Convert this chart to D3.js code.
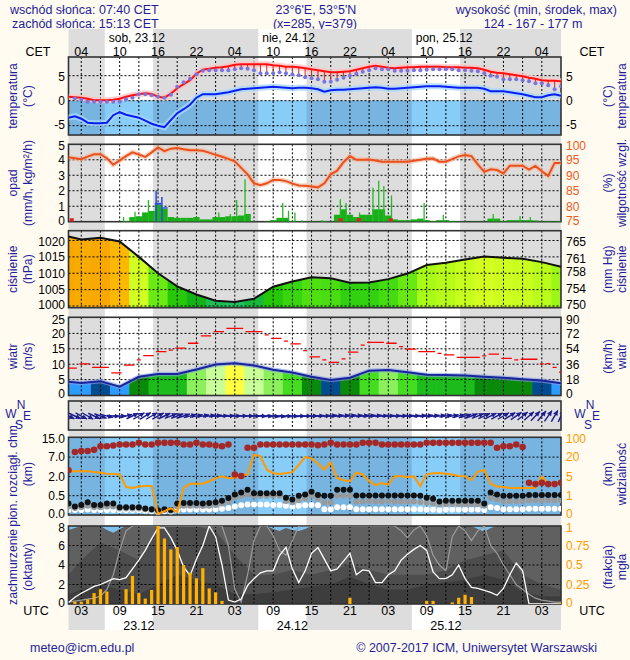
<!DOCTYPE html>
<html><head><meta charset="utf-8">
<script src="https://cdn.jsdelivr.net/npm/d3@7/dist/d3.min.js"></script>
<style>
html,body{margin:0;padding:0;background:#fffbf0;}
svg{display:block;}
text{font-family:"Liberation Sans",Arial,Helvetica,sans-serif;}
</style></head><body>
<svg id="chart" width="630" height="660"></svg>
<script>
// ======================= DATA =======================
// time = hours since 00 UTC 23.12
const hours1 = d3.range(1, 79);
const hours3 = [1,3,6,9,12,15,18,21,24,27,30,33,36,39,42,45,48,51,54,57,60,63,66,69,72,75,78];
const sunrise = [6.67, 30.67, 54.67];
const sunset = [14.22, 38.22, 62.22];
const dayLabels = ["sob, 23.12", "nie, 24.12", "pon, 25.12"];
const dateLabels = ["23.12", "24.12", "25.12"];
const dateNoon = [12, 36, 60];
const labelHours = [3,9,15,21,27,33,39,45,51,57,63,69,75];
const cetLabels = ["04","10","16","22","04","10","16","22","04","10","16","22","04"];
const utcLabels = ["03","09","15","21","03","09","15","21","03","09","15","21","03"];

// temperature (°C), hourly
const temperature = [0.8,0.7,0.6,0.4,0.1,0.1,0.1,0.2,0.4,0.8,1.1,1.3,1.5,1.35,0.8,0.6,1.4,2.5,3.3,4.1,5.4,6.2,6.4,6.6,6.7,6.9,7.2,7.3,7.3,7.3,7.3,7.3,7.1,7.0,6.8,6.8,6.7,6.5,6.3,6.1,5.9,5.7,5.7,5.8,5.9,6.2,6.5,6.8,7.0,6.8,6.6,6.5,6.6,6.7,6.7,6.8,6.8,6.8,6.8,6.7,6.7,6.7,6.6,6.6,6.5,6.2,5.8,5.6,5.5,5.3,5.1,4.9,4.6,4.4,4.1,4.0,4.0,3.9];
// perceived temperature (°C), hourly from t=2
const perceivedHours = d3.range(2, 79);
const perceived = [0.5,0.2,-0.2,-0.2,-0.2,-0.2,-0.2,-0.2,0.3,0.6,1.3,1.3,1.1,0.8,0.6,1.2,2.8,3.7,4.4,5.3,6.0,6.1,6.1,6.1,6.1,6.3,6.5,6.4,6.1,5.5,5.5,5.5,5.7,5.5,5.3,5.1,4.7,4.5,4.3,3.8,3.8,4.2,4.6,5.0,5.4,5.8,6.1,6.5,6.3,6.3,6.0,6.0,6.0,6.1,6.1,6.2,6.3,6.3,6.3,6.3,6.1,6.1,6.0,5.9,5.5,5.0,4.8,4.3,4.3,4.3,4.1,3.9,3.5,3.5,3.1,2.3,2.9,3.1];
// dew point (°C), hourly
const dewPoint = [-3.4,-3.1,-3.6,-4.4,-4.5,-4.5,-4.4,-2.9,-2.3,-2.8,-3.1,-3.4,-4.0,-4.6,-5.0,-5.3,-3.9,-2.5,-1.7,-0.8,0.6,1.3,1.3,1.3,1.5,1.7,2.0,2.3,2.4,2.5,2.6,2.7,2.8,2.7,2.6,2.5,2.6,2.6,2.5,2.3,1.8,2.1,2.2,2.2,2.3,2.4,2.5,2.6,2.7,2.6,2.4,2.4,2.5,2.6,2.7,2.8,2.9,2.9,2.9,2.8,2.7,2.6,2.6,2.6,2.6,2.4,1.9,1.9,1.9,1.7,1.5,1.3,1.0,0.7,0.7,1.1,1.3,1.0];

// precipitation (mm/h), hourly
const precip = [0,0,0,0,0,0,0,0,0,0.05,0.3,0.35,0.6,0.7,1.1,0.85,0.3,0.25,0.25,0.25,0.3,0.15,0.15,0.3,0.3,0.35,0.35,0.4,0.5,0.02,0,0.02,0.1,0.25,0.25,0.05,0.03,0.02,0.03,0.02,0.05,0.02,0.45,0.8,0.45,0.3,0.45,0.45,0.8,0.8,0.4,0.15,0.1,0.1,0.15,0.2,0.1,0.05,0.1,0.1,0.05,0.03,0.02,0.02,0.02,0.02,0.2,0.2,0.05,0.1,0.1,0.1,0.1,0.08,0.03,0.05,0.03,0.05];
const rainSpikeHours = [9.6,11.4,13.5,24.5,26.3,27.3,28.6,34.5,35.4,36.4,37.5,40.6,43.5,44.4,46.5,48.6,49.5,50.3,51.5,56.6,59.6,67.4,71.6,73.2];
const rainSpikeValues = [0.3,0.65,1.4,0.6,0.5,1.4,2.75,1.2,0.7,0.6,0.1,0.1,1.45,1.2,0.6,2.2,2.65,2.3,1.7,1.2,0.45,0.5,0.35,0.3];
const snowSpikeHours = [14.7, 15.6];
const snowSpikeValues = [2.0, 1.6];
const snowHours = [15, 16];
const snowValues = [0.12, 0.08];
const stormHours = [1.5, 43.5, 46.4, 51.4];
// relative humidity (%), hourly
const humidity = [95.8,95.5,95.2,96.0,96.8,96.8,95.5,93.4,94.8,96.2,97.4,96.7,95.9,97.4,99.0,97.8,98.6,98.8,98.4,98.1,98.1,97.9,97.3,96.6,96.0,95.3,94.5,92.4,90.3,87.4,86.8,87.4,88.5,88.5,88.1,87.3,86.7,86.6,86.4,86.1,87.4,90.3,91.5,94.2,96.2,95.0,95.0,95.1,94.8,94.4,94.4,94.4,94.4,94.4,94.7,95.0,95.3,95.4,94.4,94.4,95.2,96.1,96.5,96.2,93.5,91.1,91.9,91.7,90.6,93.1,93.1,93.1,91.8,93.0,91.3,89.8,94.0,94.0];

// pressure (hPa), 3-hourly
const pressure = [1021.2,1020.3,1020.8,1019.7,1015.0,1010.0,1006.0,1003.5,1001.6,1001.2,1002.2,1005.9,1007.5,1008.8,1008.5,1007.1,1007.2,1008.2,1009.9,1012.5,1013.2,1014.2,1015.1,1014.7,1014.4,1013.4,1012.0];

// wind speed (m/s), 3-hourly; gusts (m/s) hourly; direction (deg, from) hourly
const windSpeed = [4.3,3.9,4.5,2.7,5.9,6.8,6.8,8.3,9.9,10.3,9.6,8.2,7.3,5.9,4.9,5.6,7.9,8.1,7.4,6.6,6.5,6.3,5.9,5.6,5.1,4.7,3.8];
const gusts = [8.7,8.7,10.1,10.1,9.0,9.0,9.0,7.2,7.2,9.7,9.7,11.4,12.8,12.8,14.1,14.1,14.6,15.2,15.2,16.8,16.8,19.2,19.2,20.6,20.6,21.6,21.6,21.6,20.6,20.6,20.6,19.5,18.4,18.4,17.5,16.6,16.6,14.4,12.4,12.4,11.4,10.6,10.6,11.7,13.9,13.9,16.2,17.1,17.1,17.1,16.8,16.8,15.7,14.9,14.9,14.1,14.1,14.1,13.5,13.0,13.0,12.2,12.2,12.2,12.2,12.7,13.3,13.3,11.9,11.9,11.4,11.6,11.6,11.6,10.1,10.2,9.0,7.4];
const windDir = [295,295,298,300,295,290,285,275,270,255,245,240,238,240,242,245,248,250,252,255,258,260,262,264,265,266,267,268,270,272,274,275,276,276,275,274,272,270,268,266,265,264,263,262,262,262,263,264,264,265,265,266,266,266,265,264,264,263,262,260,258,256,254,250,248,246,244,242,240,238,236,232,228,224,220,215,210,205];

// cloud vertical extent (km), hourly; visibility (km), hourly
const cloudTop = [3.6,9.1,9.5,9.5,10,11.5,11.5,11.8,12.2,12.2,12.2,12.9,12.2,12.2,12.9,12.9,12.9,12.9,12.2,12.2,12.9,12.2,12.2,11.8,11.5,12.2,2.5,2.1,10.9,10.9,12.2,12.2,12.2,12.2,12.2,12.2,12.2,12.2,12.2,11.9,12.2,12.9,12.2,12.2,12.2,12.2,12.9,12.9,12.9,12.2,12.2,12.2,12.2,12.2,12.2,12.2,12.9,12.9,12.9,12.9,12.9,12.9,12.9,12.9,12.9,12.9,12.9,10.9,11.5,11.5,12.2,11.2,1.5,1.4,1.5,1.4,1.4,1.5];
const cloudBaseBlack = [0.3,0.22,0.26,0.33,0.26,0.26,0.3,0.3,0.2,0.2,0.2,0.2,0.17,0.15,0.12,0.15,0.13,0.3,0.31,0.31,0.31,0.3,0.31,0.33,0.37,0.44,0.6,0.75,0.97,0.7,0.7,0.7,0.7,0.7,0.45,0.4,0.5,0.6,0.8,0.55,0.5,0.5,0.97,0.97,0.97,0.51,0.51,0.52,0.51,0.51,0.52,0.51,0.51,0.51,0.51,0.5,0.45,0.42,0.35,0.37,0.37,0.37,0.37,0.37,0.37,0.3,0.74,0.6,0.5,0.5,0.5,0.5,0.55,0.55,0.55,0.55,0.55,0.55];
const cloudBaseGrey = [0.22,0.18,0.2,0.24,0.2,0.2,0.22,0.22,0.17,0.17,0.17,0.17,0.15,0.13,0.1,0.13,0.11,0.22,0.24,0.24,0.24,0.23,0.24,0.26,0.3,0.35,0.45,0.5,0.6,0.5,0.5,0.5,0.5,0.5,0.36,0.33,0.38,0.42,0.5,0.42,0.33,0.33,0.5,0.5,0.5,0.35,0.35,0.36,0.35,0.35,0.36,0.35,0.35,0.35,0.35,0.34,0.32,0.3,0.27,0.28,0.28,0.28,0.28,0.28,0.28,0.24,0.45,0.4,0.36,0.36,0.36,0.36,0.38,0.38,0.38,0.38,0.38,0.38];
const cloudBaseWhite = [0.13,0.13,0.13,0.14,0.13,0.13,0.13,0.13,0.12,0.12,0.12,0.12,0.11,0.1,0.08,0.1,0.09,0.13,0.14,0.14,0.14,0.14,0.14,0.15,0.16,0.18,0.22,0.25,0.27,0.27,0.27,0.27,0.26,0.26,0.24,0.22,0.24,0.25,0.26,0.25,0.15,0.15,0.2,0.2,0.2,0.15,0.15,0.15,0.15,0.15,0.15,0.15,0.15,0.15,0.15,0.15,0.14,0.14,0.13,0.14,0.14,0.14,0.14,0.14,0.14,0.13,0.2,0.18,0.15,0.15,0.15,0.15,0.16,0.16,0.16,0.16,0.16,0.16];
const visibility = [9.1,9.1,9.1,9.1,8.5,7.9,7.1,6.8,6.6,2.8,2.6,2.9,3.0,3.0,0.05,0.2,0.35,0.15,2.6,3.5,3.5,3.5,4.0,4.6,5.0,4.6,4.7,5.2,6.6,30,24,10.4,7.5,6.8,7.5,8.3,14,20,19,15,10.4,16,4.7,4.2,4.0,7.9,6.5,4.0,3.2,3.6,3.3,5.2,5.2,4.9,5.0,3.0,6.6,7.5,7.6,7.0,6.4,5.4,5.2,4.2,8.6,10,3.5,2.9,2.8,2.6,2.6,2.6,2.6,2.6,5.0,3.4,3.6,3.3];

// cloud cover (oktas): total hourly, mid & low 3-hourly; low/medium cloud lines hourly; fog fraction hourly
const cloudTotal = [7.6,7.8,8,8,8,8,7.6,7.3,7.7,8,8,8,8,8,8,8,8,8,8,8,8,8,8,8,8,8,8,8,8,8,8,8,7.7,7.5,7.8,7.6,7.5,7.7,8,8,8,8,8,8,8,8,8,8,8,8,8,8,8,8,8,8,8,8,8,8,8,8,8,8,7.7,7.4,7.8,8,8,8,8,8,8,8,8,8,8,8];
const cloudMid = [3.0,4.5,6.3,5.5,4.5,8,8,8,7.5,5,3,3,3.5,3,3.5,4,3.5,3,3,3,3.5,4.5,5,5.5,3,2,1.5];
const cloudLow = [1,1.5,2,1.5,1,2,3,2.5,2,1,1,1.2,1.5,1.8,2,2.8,2,1.5,1.5,2,2.2,2.5,3,2.5,1.2,0.8,0.8];
const lowCloudLine = [0.15,0.7,1.1,1.45,1.8,2.0,2.3,2.6,2.5,2.7,3.6,4.5,5.5,6.7,7.8,7.8,6.8,5.5,3.8,2.9,4.6,6.0,8.0,6.9,4.0,0.4,0.2,0.5,1.9,2.6,3.2,3.4,3.4,5.0,5.8,3.6,2.2,3.4,5.2,5.8,4.6,3.4,3.6,4.4,5.2,3.0,3.5,3.4,2.2,2.2,3.0,3.4,4.5,5.1,5.6,6.0,5.5,3.3,2.6,2.6,3.0,4.0,2.6,1.7,1.6,1.4,1.2,0.9,1.6,3.0,4.2,3.4,0,0,0,0,0,0];
const midCloudLine = [0.2,0.3,0.4,0.5,0.6,0.8,1.5,3.0,5.5,7.5,8,8,8,8,8,8,8,8,8,8,8,8,8,8,8,6.0,1.5,0.2,3.0,6.5,8,8,7.0,5.5,5.0,6.5,8,8,8,8,8,8,8,8,8,8,8,8,8,8,8,8,7.5,6.8,7.6,8,7.0,5.0,4.0,3.4,6.9,8,7.5,6.5,7.5,8,6.0,5.2,4.0,3.0,2.0,1.5,1.0,0.6,0.4,0.3,0.2,0.2];
const fogHours = [2,3,4,5,6,7,10,11,12,13,14,15,16,17,18,19,20,21,22,23,24,25,45,57,58,61,62,63,64,78];
const fogValues = [0.03,0.03,0.06,0.14,0.19,0.16,0.19,0.36,0.14,0.07,0.18,1.0,0.84,0.7,0.73,0.5,0.4,0.33,0.46,0.2,0.15,0.04,0.08,0.04,0.04,0.02,0.08,0.12,0.09,0.02];

// ======================= DRAWING =======================
const svg = d3.select("#chart");
const L = 68.5, R = 561;
const x = d3.scaleLinear().domain([1, 78]).range([L, R]);
const NAVY = "#1e1e9c";
const GRID_HOURS = d3.range(3, 78, 3);
const TICK_FS = 12, TITLE_FS = 12.2;
let clipId = 0;

svg.append("rect").attr("width", 630).attr("height", 660).attr("fill", "#fffbf0");

function bands(top, bottom, night, day) {
  svg.append("rect").attr("x", L).attr("y", top).attr("width", R - L).attr("height", bottom - top).attr("fill", night);
  sunrise.forEach((s, i) => {
    svg.append("rect").attr("x", x(s)).attr("y", top).attr("width", x(sunset[i]) - x(s))
      .attr("height", bottom - top).attr("fill", day);
  });
}
function clipRect(top, bottom) {
  const id = "clip" + (clipId++);
  svg.append("clipPath").attr("id", id).append("rect").attr("x", L).attr("y", top).attr("width", R - L).attr("height", bottom - top);
  return svg.append("g").attr("clip-path", `url(#${id})`);
}
function frame(top, bottom, yvals, ys) {
  const g = svg.append("g");
  GRID_HOURS.forEach(h => g.append("line").attr("x1", x(h)).attr("x2", x(h)).attr("y1", top).attr("y2", bottom)
    .attr("stroke", "#000").attr("stroke-width", 1).attr("stroke-dasharray", "2,2"));
  (yvals || []).forEach(v => g.append("line").attr("x1", L).attr("x2", R).attr("y1", ys(v)).attr("y2", ys(v))
    .attr("stroke", "#000").attr("stroke-width", 1).attr("stroke-dasharray", "2,2"));
  g.append("rect").attr("x", L).attr("y", top).attr("width", R - L).attr("height", bottom - top)
    .attr("fill", "none").attr("stroke", "#333").attr("stroke-width", 1.6);
}
function labelY(v, vals, ys) {
  const y = ys(v);
  if (v === d3.min(vals)) return y - 1.2;
  if (v === d3.max(vals)) return y + 1.2;
  return y;
}
function ticksLeft(vals, ys, labels, color) {
  vals.forEach((v, i) => svg.append("text").attr("x", 65).attr("y", labelY(v, vals, ys)).attr("dy", "0.36em")
    .attr("text-anchor", "end").attr("font-size", TICK_FS).attr("fill", color || "#000").text(labels ? labels[i] : v));
}
function ticksRight(vals, ys, labels, color) {
  vals.forEach((v, i) => svg.append("text").attr("x", 566).attr("y", labelY(v, vals, ys)).attr("dy", "0.36em")
    .attr("text-anchor", "start").attr("font-size", TICK_FS).attr("fill", color || "#000").text(labels ? labels[i] : v));
}
function vtitle(xc, yc, t) {
  svg.append("text").attr("transform", `translate(${xc},${yc}) rotate(-90)`).attr("dy", "0.36em")
    .attr("text-anchor", "middle").attr("font-size", TITLE_FS).attr("fill", NAVY).text(t);
}
function titles(top, bottom, l1, l2, r1, r2, shift) {
  const yc = (top + bottom) / 2 + (shift || 0);
  vtitle(13, yc, l1); vtitle(28, yc, l2);
  vtitle(608, yc, r1); vtitle(622, yc, r2);
}
function txt(xp, yp, s, anchor, size, color) {
  svg.append("text").attr("x", xp).attr("y", yp).attr("text-anchor", anchor || "start")
    .attr("font-size", size || 12.5).attr("fill", color || NAVY).text(s);
}

// ---------- header / footer ----------
txt(10, 14, "wschód słońca: 07:40 CET");
txt(12, 27.5, "zachód słońca: 15:13 CET");
txt(316, 14, "23°6'E, 53°5'N", "middle");
txt(315, 27.5, "(x=285,  y=379)", "middle");
txt(617, 14, "wysokość (min, środek, max)", "end");
txt(533, 27.5, "124 - 167 - 177 m", "middle");

bands(29, 630, "#dddddd", "#ffffff");

dayLabels.forEach((d, i) => txt(x(sunrise[i]) + 4, 41.5, d, "start", 12, "#000"));
labelHours.forEach((h, i) => txt(x(h), 55.5, cetLabels[i], "middle", 12.5, "#000"));
txt(38, 55.5, "CET", "middle", 12.5, "#000");
txt(592, 55.5, "CET", "middle", 12.5, "#000");
labelHours.forEach((h, i) => txt(x(h), 615, utcLabels[i], "middle", 12.5, "#000"));
dateLabels.forEach((d, i) => txt(x(dateNoon[i]), 629.5, d, "middle", 12.5, "#000"));
txt(36, 615, "UTC", "middle", 12.5, "#000");
txt(592, 615, "UTC", "middle", 12.5, "#000");
txt(30, 652, "meteo@icm.edu.pl", "start", 12.5);
txt(597, 652, "© 2007-2017 ICM, Uniwersytet Warszawski", "end", 12.5);

// ---------- PANEL 1: temperature ----------
{
  const top = 57, bottom = 135;
  const ys = d3.scaleLinear().domain([-5, 5]).range([125.7, 75.7]);
  const g0 = clipRect(top, bottom);
  g0.append("rect").attr("x", L).attr("y", ys(0)).attr("width", R - L).attr("height", bottom - ys(0)).attr("fill", "#78b4e0");
  sunrise.forEach((s, i) => g0.append("rect").attr("x", x(s)).attr("y", ys(0)).attr("width", x(sunset[i]) - x(s))
    .attr("height", bottom - ys(0)).attr("fill", "#88ccf8"));
  frame(top, bottom, [-5, 0, 5], ys);
  const g = clipRect(top, bottom);
  const line = d3.line().x((d, i) => x(hours1[i])).y(d => ys(d));
  g.append("path").attr("d", line(dewPoint)).attr("fill", "none").attr("stroke", "#a8d8ff").attr("stroke-width", 6).attr("opacity", 0.8);
  g.append("path").attr("d", line(temperature)).attr("fill", "none").attr("stroke", "#ffc4c4").attr("stroke-width", 6).attr("opacity", 0.8);
  const tAt = d3.scaleLinear().domain(hours1).range(temperature);
  perceivedHours.forEach((h, i) => {
    if (tAt(h) - perceived[i] > 0.25)
      g.append("line").attr("x1", x(h)).attr("x2", x(h)).attr("y1", ys(tAt(h))).attr("y2", ys(perceived[i]))
        .attr("stroke", "#e02020").attr("stroke-width", 1);
  });
  g.append("path").attr("d", line(dewPoint)).attr("fill", "none").attr("stroke", "#0a1ef0").attr("stroke-width", 2);
  g.append("path").attr("d", line(temperature)).attr("fill", "none").attr("stroke", "#ff1010").attr("stroke-width", 2);
  perceivedHours.forEach((h, i) => g.append("circle").attr("cx", x(h)).attr("cy", ys(perceived[i])).attr("r", 2).attr("fill", "#7775e2"));
  ticksLeft([-5, 0, 5], ys);
  ticksRight([-5, 0, 5], ys);
  titles(top, bottom, "temperatura", "(°C)", "(°C)", "temperatura");
}

// ---------- PANEL 2: precipitation & humidity ----------
{
  const top = 144.3, bottom = 221.7;
  const ys = d3.scaleLinear().domain([0, 5]).range([bottom, top]);
  const yh = d3.scaleLinear().domain([75, 100]).range([bottom, top]);
  frame(top, bottom, [1, 2, 3, 4], ys);
  const g = clipRect(top, bottom);
  hours1.forEach((h, i) => {
    if (precip[i] > 0) g.append("rect").attr("x", x(h - 0.5)).attr("width", x(h + 0.5) - x(h - 0.5))
      .attr("y", ys(precip[i])).attr("height", ys(0) - ys(precip[i])).attr("fill", "#1aae1a");
  });
  snowHours.forEach((h, i) => {
    const base = precip[hours1.indexOf(h)];
    g.append("rect").attr("x", x(h - 0.5)).attr("width", x(h + 0.5) - x(h - 0.5))
      .attr("y", ys(base + snowValues[i])).attr("height", ys(base) - ys(base + snowValues[i])).attr("fill", "#2a4ae0");
  });
  rainSpikeHours.forEach((h, i) => g.append("line").attr("x1", x(h)).attr("x2", x(h)).attr("y1", ys(0)).attr("y2", ys(rainSpikeValues[i]))
    .attr("stroke", "#22bb22").attr("stroke-width", 1.3));
  snowSpikeHours.forEach((h, i) => g.append("line").attr("x1", x(h)).attr("x2", x(h)).attr("y1", ys(0)).attr("y2", ys(snowSpikeValues[i]))
    .attr("stroke", "#2a4ae0").attr("stroke-width", 1.5));
  stormHours.forEach(h => g.append("rect").attr("x", x(h) - 2).attr("y", bottom - 3.5).attr("width", 4).attr("height", 3.5).attr("fill", "#e02020"));
  const line = d3.line().x((d, i) => x(hours1[i])).y(d => yh(d));
  g.append("path").attr("d", line(humidity)).attr("fill", "none").attr("stroke", "#f8b898").attr("stroke-width", 5).attr("opacity", 0.6);
  g.append("path").attr("d", line(humidity)).attr("fill", "none").attr("stroke", "#e8501e").attr("stroke-width", 2);
  ticksLeft([0, 1, 2, 3, 4, 5], ys);
  ticksRight([75, 80, 85, 90, 95, 100], yh, null, "#ee5a1c");
  titles(top, bottom, "opad", "(mm/h, kg/m²/h)", "(%)", "wilgotność wzgl.");
}

// ---------- PANEL 3: pressure ----------
{
  const top = 230.7, bottom = 307.7;
  const ys = d3.scaleLinear().domain([1000, 1020]).range([306, 240.5]);
  const color = d3.scaleLinear()
    .domain([1001, 1003, 1005, 1007, 1009, 1011, 1013, 1015, 1017, 1019, 1020.5])
    .range(["#22c46a", "#0fae1c", "#1ec000", "#30d010", "#52e212", "#84f214", "#b4fc18", "#d2ff22", "#fff200", "#ffc400", "#f8a800"]).clamp(true);
  const area = d3.area().x((d, i) => x(hours3[i])).y0(bottom).y1(d => ys(d));
  const id = "clipP" + (clipId++);
  svg.append("clipPath").attr("id", id).append("path").attr("d", area(pressure));
  const g = svg.append("g").attr("clip-path", `url(#${id})`);
  hours3.forEach((h, i) => {
    const a = i === 0 ? h : (hours3[i - 1] + h) / 2;
    const b = i === hours3.length - 1 ? h : (h + hours3[i + 1]) / 2;
    g.append("rect").attr("x", x(a)).attr("width", x(b) - x(a) + 0.6).attr("y", top).attr("height", bottom - top).attr("fill", color(pressure[i]));
  });
  frame(top, bottom, [1000, 1005, 1010, 1015, 1020], ys);
  const line = d3.line().x((d, i) => x(hours3[i])).y(d => ys(d));
  svg.append("path").attr("d", line(pressure)).attr("fill", "none").attr("stroke", "#111").attr("stroke-width", 2);
  ticksLeft([1000, 1005, 1010, 1015, 1020], ys);
  const mm = [750, 754, 758, 761, 765];
  ticksRight(mm.map(m => m * 1.33322), ys, mm);
  titles(top, bottom, "ciśnienie", "(hPa)", "(mm Hg)", "ciśnienie");
}

// ---------- PANEL 4: wind speed ----------
{
  const top = 317.3, bottom = 395.5;
  const ys = d3.scaleLinear().domain([0, 25]).range([395, 318]);
  const color = d3.scaleThreshold().domain([4.4, 5, 6, 7, 8, 9, 10])
    .range(["#2d9cff", "#004c8e", "#0a8a0a", "#1cbc1c", "#44dd22", "#8cf05c", "#c8ff98", "#ffff44"]);
  const area = d3.area().x((d, i) => x(hours3[i])).y0(bottom).y1(d => ys(d));
  const id = "clipW" + (clipId++);
  svg.append("clipPath").attr("id", id).append("path").attr("d", area(windSpeed));
  const g = svg.append("g").attr("clip-path", `url(#${id})`);
  hours3.forEach((h, i) => {
    const a = i === 0 ? h : (hours3[i - 1] + h) / 2;
    const b = i === hours3.length - 1 ? h : (h + hours3[i + 1]) / 2;
    g.append("rect").attr("x", x(a)).attr("width", x(b) - x(a) + 0.6).attr("y", top).attr("height", bottom - top).attr("fill", color(windSpeed[i]));
  });
  frame(top, bottom, [5, 10, 15, 20], ys);
  const gl = clipRect(top, bottom);
  const line = d3.line().x((d, i) => x(hours3[i])).y(d => ys(d));
  gl.append("path").attr("d", line(windSpeed)).attr("fill", "none").attr("stroke", "#8aa0e8").attr("stroke-width", 4.5).attr("opacity", 0.6);
  gl.append("path").attr("d", line(windSpeed)).attr("fill", "none").attr("stroke", "#18249a").attr("stroke-width", 2);
  let s = 0;
  for (let i = 1; i <= gusts.length; i++) {
    if (i === gusts.length || gusts[i] !== gusts[s]) {
      gl.append("line").attr("x1", x(hours1[s] - 0.5) + 1.2).attr("x2", x(hours1[i - 1] + 0.5) - 1.2)
        .attr("y1", ys(gusts[s])).attr("y2", ys(gusts[s])).attr("stroke", "#ff0000").attr("stroke-width", 1.3);
      s = i;
    }
  }
  ticksLeft([0, 5, 10, 15, 20, 25], ys);
  ticksRight([0, 5, 10, 15, 20, 25], ys, [0, 18, 36, 54, 72, 90]);
  titles(top, bottom, "wiatr", "(m/s)", "(km/h)", "wiatr");
}

// ---------- PANEL 5: wind direction ----------
{
  const top = 401, bottom = 430;
  frame(top, bottom, [], null);
  const g = clipRect(top, bottom);
  const yc = 416, len = 13;
  hours1.forEach((h, i) => {
    const to = (windDir[i] + 180) * Math.PI / 180;
    const dx = Math.sin(to), dy = -Math.cos(to);
    const cx = x(h), x1 = cx - dx * len / 2, y1 = yc - dy * len / 2, x2 = cx + dx * len / 2, y2 = yc + dy * len / 2;
    g.append("line").attr("x1", x1).attr("y1", y1).attr("x2", x2).attr("y2", y2).attr("stroke", "#1c1c90").attr("stroke-width", 1.4);
    const px = -dy, py = dx;
    g.append("path").attr("d", `M${x2},${y2} L${x2 - dx * 5 + px * 2.5},${y2 - dy * 5 + py * 2.5} L${x2 - dx * 5 - px * 2.5},${y2 - dy * 5 - py * 2.5} Z`)
      .attr("fill", "#1c1c90");
  });
  [[21, 409, "N"], [11, 418, "W"], [27, 420, "E"], [19, 429, "S"]].forEach(d => txt(d[0], d[1], d[2], "middle", 12));
  [[590, 409, "N"], [580, 418, "W"], [596, 420, "E"], [588, 429, "S"]].forEach(d => txt(d[0], d[1], d[2], "middle", 12));
}

// ---------- PANEL 6: cloud extent & visibility ----------
{
  const top = 437.3, bottom = 515;
  const ys = d3.scaleLinear().domain([0, 0.5, 2, 7, 15]).range([515, 495.7, 476.4, 457.1, 437.8]);
  const yv = d3.scaleLinear().domain([0, 1, 5, 20, 100]).range([515, 495.7, 476.4, 457.1, 437.8]);
  const g0 = clipRect(top, bottom);
  g0.append("rect").attr("x", L).attr("y", top).attr("width", R - L).attr("height", bottom - top).attr("fill", "#78b4e0");
  sunrise.forEach((s, i) => g0.append("rect").attr("x", x(s)).attr("y", top).attr("width", x(sunset[i]) - x(s))
    .attr("height", bottom - top).attr("fill", "#88ccf8"));
  frame(top, bottom, [0.5, 2, 7], ys);
  const g = clipRect(top, bottom);
  hours1.forEach((h, i) => {
    g.append("circle").attr("cx", x(h)).attr("cy", ys(cloudBaseWhite[i])).attr("r", 3).attr("fill", "#ffffff");
    g.append("circle").attr("cx", x(h)).attr("cy", ys(cloudBaseGrey[i])).attr("r", 3).attr("fill", "#9a9a9a");
    g.append("circle").attr("cx", x(h)).attr("cy", ys(cloudBaseBlack[i])).attr("r", 3).attr("fill", "#111111");
  });
  const line = d3.line().x((d, i) => x(hours1[i])).y(d => yv(d));
  g.append("path").attr("d", line(visibility)).attr("fill", "none").attr("stroke", "#ff9a00").attr("stroke-width", 2);
  hours1.forEach((h, i) => g.append("circle").attr("cx", x(h)).attr("cy", ys(cloudTop[i])).attr("r", 3.3).attr("fill", "#a52828"));
  ticksLeft([0, 0.5, 2, 7, 15], ys, ["0.0", "0.5", "2.0", "7.0", "15.0"]);
  ticksRight([0, 1, 5, 20, 100], yv, null, "#ff9a00");
  titles(top, bottom, "pion. rozciągł. chm.", "(km)", "(km)", "widzialność", -2);
}

// ---------- PANEL 7: cloud cover & fog ----------
{
  const top = 526, bottom = 604;
  const ys = d3.scaleLinear().domain([0, 8]).range([bottom, top]);
  const yf = d3.scaleLinear().domain([0, 1]).range([bottom, top]);
  const g = clipRect(top, bottom);
  g.append("rect").attr("x", L).attr("y", top).attr("width", R - L).attr("height", bottom - top).attr("fill", "#7ec0ee");
  const a1 = d3.area().x((d, i) => x(hours1[i])).y0(bottom).y1(d => ys(d));
  const a3 = d3.area().x((d, i) => x(hours3[i])).y0(bottom).y1(d => ys(d));
  g.append("path").attr("d", a1(cloudTotal)).attr("fill", "#606060");
  g.append("path").attr("d", a3(cloudMid)).attr("fill", "#4d4d4d");
  g.append("path").attr("d", a3(cloudLow)).attr("fill", "#3d3d3d");
  frame(top, bottom, [2, 4, 6], ys);
  const g2 = clipRect(top, bottom);
  const line = d3.line().x((d, i) => x(hours1[i])).y(d => ys(d));
  g2.append("path").attr("d", line(midCloudLine)).attr("fill", "none").attr("stroke", "#9c9c9c").attr("stroke-width", 1.2);
  g2.append("path").attr("d", line(lowCloudLine)).attr("fill", "none").attr("stroke", "#ffffff").attr("stroke-width", 1.3);
  fogHours.forEach((h, i) => g2.append("rect").attr("x", x(h) - 1.6).attr("width", 3.2).attr("y", yf(fogValues[i]))
    .attr("height", yf(0) - yf(fogValues[i])).attr("fill", "#ffb000"));
  ticksLeft([0, 2, 4, 6, 8], ys);
  ticksRight([0, 0.25, 0.5, 0.75, 1], yf, null, "#ff9a00");
  titles(top, bottom, "zachmurzenie", "(oktanty)", "(frakcja)", "mgła", 2);
}
</script>
</body></html>
